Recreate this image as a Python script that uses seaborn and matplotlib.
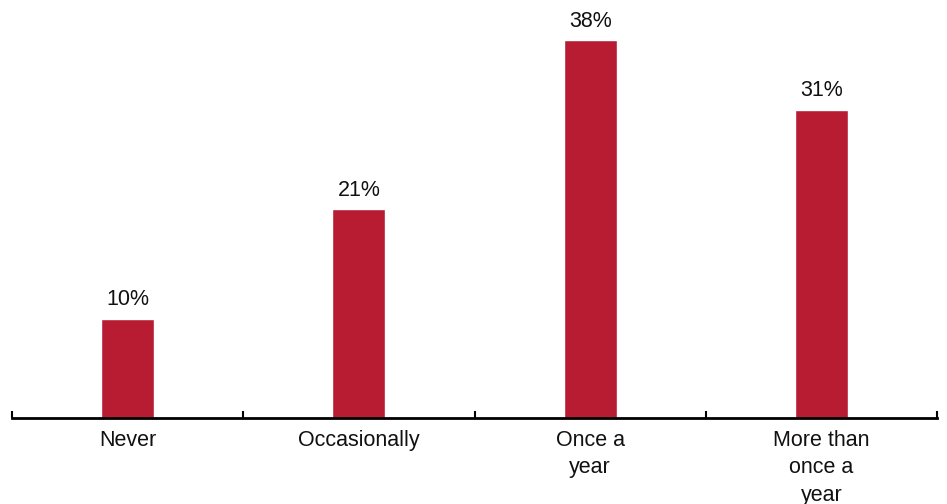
import matplotlib
matplotlib.use("Agg")
import matplotlib.pyplot as plt
import seaborn as sns
import pandas as pd
from matplotlib.ticker import FixedLocator

categories = ["Never", "Occasionally", "Once a\nyear", "More than\nonce a\nyear"]
values = [10, 21, 38, 31]
bar_color = "#B81C32"

sns.set_theme(style="white")
plt.rcParams["font.family"] = ["Liberation Sans", "DejaVu Sans"]

df = pd.DataFrame({"category": categories, "value": values})

fig = plt.figure(figsize=(9.47, 5.04), dpi=100)
ax = fig.add_axes([12 / 947, (504 - 418) / 504, 925 / 947, 398 / 504])

sns.barplot(data=df, x="category", y="value", color=bar_color, width=0.23,
            saturation=1, ax=ax)

ax.set_xlim(-0.5, len(categories) - 0.5)
ax.set_ylim(0, 40)

for i, v in enumerate(values):
    ax.annotate(f"{v}%", (i, v), xytext=(0, 6), textcoords="offset points",
                ha="center", va="bottom", fontsize=15.5, color="#111111")

for s in ["top", "right", "left"]:
    ax.spines[s].set_visible(False)
ax.spines["bottom"].set_color("black")
ax.spines["bottom"].set_linewidth(2)

ax.set_yticks([])
ax.set_xlabel("")
ax.set_ylabel("")
ax.tick_params(axis="x", which="major", length=0, pad=8.5, labelsize=15.5,
               labelcolor="#111111")
for lbl in ax.get_xticklabels():
    lbl.set_linespacing(1.4)
ax.xaxis.set_minor_locator(FixedLocator([i - 0.5 for i in range(len(categories) + 1)]))
ax.tick_params(axis="x", which="minor", direction="in", length=5, width=1.5,
               color="black", bottom=True)

fig.savefig("out.png", dpi=100)
